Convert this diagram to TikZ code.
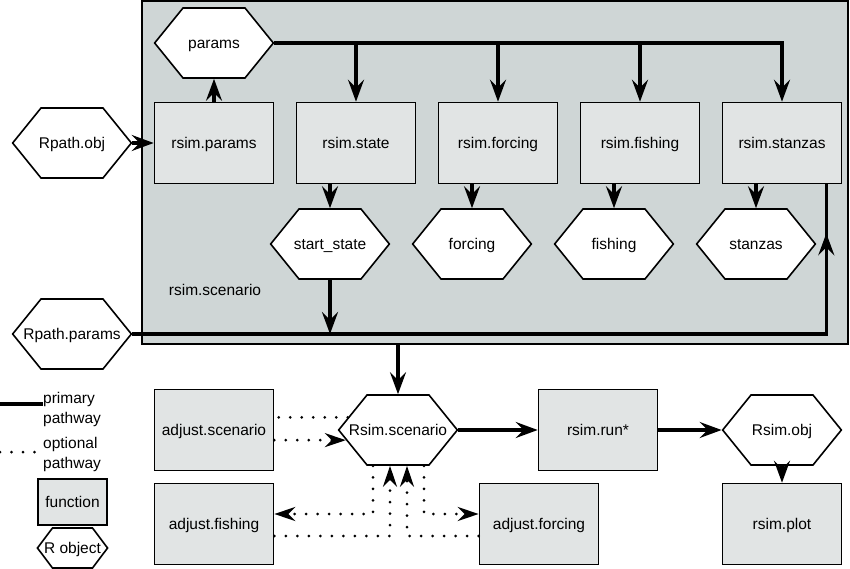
\documentclass[tikz,border=0pt]{standalone}
\usepackage{fontspec}
\setmainfont{Liberation Sans}
\usetikzlibrary{scopes,calc,shapes.symbols,arrows.meta}
\definecolor{scenbg}{RGB}{207,214,214}
\definecolor{funbg}{RGB}{225,228,228}

\begin{document}
\begin{tikzpicture}[
    x=1pt, y=-1pt,
    font=\fontsize{15.5}{20}\selectfont,
    scen/.style={rectangle,draw,fill=scenbg,line width=1.6pt,minimum width=706pt,minimum height=343pt},
    fun/.style={rectangle,draw,fill=funbg,line width=1.6pt,minimum width=119pt,minimum height=81pt,inner sep=0pt,text height=12pt,text depth=1.2pt},
    hexbase/.style={signal,signal to=east and west,draw,fill=white,line width=1.6pt,inner sep=0pt},
    obj/.style={hexbase,signal pointer angle=102,text height=40.4pt,text depth=29.6pt,
        execute at begin node={\hbox to 62pt\bgroup\hss},execute at end node={\hss\egroup}},
    objkey/.style={hexbase,signal pointer angle=106,text height=25.4pt,text depth=14.6pt,
        execute at begin node={\hbox to 40pt\bgroup\hss},execute at end node={\hss\egroup}},
    pathw/.style={line width=3.4pt},
    prim/.style={pathw,-{Stealth[length=22pt,width=16pt,inset=8pt]}},
    optw/.style={line width=3pt,line cap=round,dash pattern=on 0pt off 11.5pt},
    opt/.style={optw,-{Stealth[length=21pt,width=14pt,inset=7pt]}},
]
    \useasboundingbox (0,0) rectangle (850,569);

    %%%
    % rsim.scenario
    \node[scen] (scen) at (495,172.5) {};
    \node (scenlab) at (215,290) {rsim.scenario};
    \node[obj] (params) at (214,43) {params};
    \node[fun] (rparams) at (214,143) {rsim.params};
    \foreach \n/\x/\lab/\out in {state/356/rsim.state/start\_state, forcing/498/rsim.forcing/forcing,
        fishing/640/rsim.fishing/fishing, stanzas/782/rsim.stanzas/stanzas}{
        \node[fun] (r\n) at (\x,143) {\lab};
        \node[obj] (o\n) at (\x-26,244) {\out};
    }
    \node[obj] (rpathobj) at (72,143) {Rpath.obj};
    \node[obj] (rpathparams) at (72,334) {Rpath.params};

    % run and adjust
    \node[obj] (rsimscen) at (398,430) {Rsim.scenario};
    \node[fun] (adjscen) at (214,430) {adjust.scenario};
    \node[fun] (adjfish) at (214,524) {adjust.fishing};
    \node[fun] (adjforc) at (539,524) {adjust.forcing};
    \node[fun] (rsimrun) at (598,430) {rsim.run*};
    \node[obj] (rsimobj) at (782,430) {Rsim.obj};
    \node[fun] (rsimplot) at (782,524) {rsim.plot};

    %%%
    % primary pathway
    \draw[prim] (rpathobj.east) -- (rparams.west);
    \draw[prim] (rparams.north) -- (params.south);
    \draw[prim] (params.east) -| (rstanzas.north);
    \foreach \n in {state,forcing,fishing}
        \draw[prim] (params.east -| r\n.north) -- (r\n.north);
    \foreach \n in {state,forcing,fishing,stanzas}
        \draw[prim] (o\n.north |- r\n.south) -- (o\n.north);
    \coordinate (stzin) at ($(rstanzas.south east)+(-16,0)$);
    \draw[pathw] (rpathparams.east) -| (stzin);
    \draw[prim] ($(stzin)+(0,100)$) -- ($(stzin)+(0,49)$);
    \draw[prim] (ostate.south) -- (ostate.south |- rpathparams.east);
    \draw[prim] (rsimscen.north |- scen.south) -- (rsimscen.north);
    \draw[prim] (rsimscen.east) -- (rsimrun.west);
    \draw[prim] (rsimrun.east) -- (rsimobj.west);
    \draw[prim] (rsimobj.south) -- (rsimplot.north);

    % optional pathway
    {[opt]
        \draw[-] (rsimscen.166) -- (adjscen.east |- rsimscen.166);
        \draw (adjscen.east |- rsimscen.191) -- (rsimscen.191);
        \draw ($(rsimscen.south)+(-25,0)$) |- ($(adjfish.east)+(0,-10)$);
        \draw ($(adjfish.east)+(0,12)$) -| ($(rsimscen.south)+(-8,0)$);
        \draw ($(adjforc.west)+(0,12)$) -| ($(rsimscen.south)+(9,0)$);
        \draw ($(rsimscen.south)+(26,0)$) |- ($(adjforc.west)+(0,-10)$);
    }

    %%%
    % legend
    \draw[pathw] (0,404) -- (43,404);
    \node[anchor=base west,align=left,inner sep=0pt] (lprim) at (43,423) {primary\\pathway};
    \draw[optw] (0,452) -- (37,452);
    \node[anchor=base west,align=left,inner sep=0pt] (lopt) at (43,468) {optional\\pathway};
    \node[fun,minimum width=69pt,minimum height=46pt] (lfun) at (72.5,502) {function};
    \node[objkey] (lobj) at (72.5,548) {R object};

\end{tikzpicture}
\end{document}
